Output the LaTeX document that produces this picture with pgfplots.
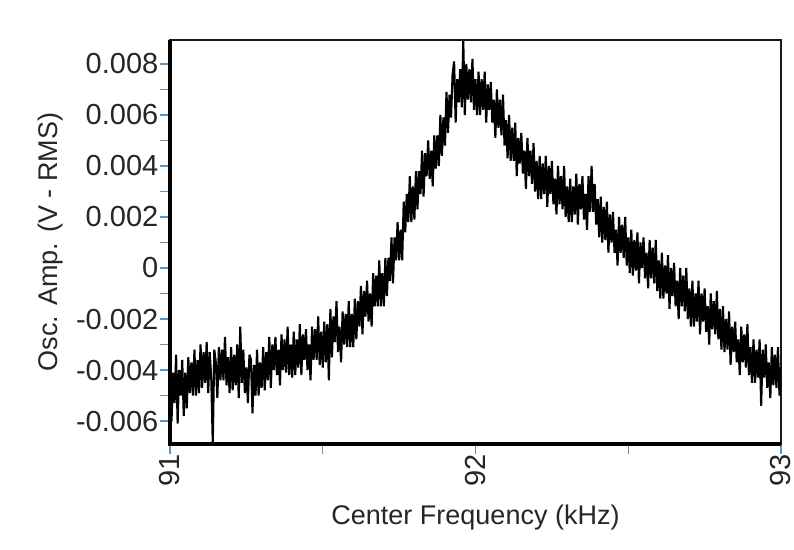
\documentclass[border=0pt]{standalone}
\usepackage{fontspec}
\setmainfont{Liberation Sans}
\usepackage{pgfplots}
\pgfplotsset{compat=1.18}
\definecolor{tickblue}{RGB}{90,150,200}

\begin{document}
\begin{tikzpicture}
\path (0,0) rectangle (794pt,549pt);
\begin{axis}[
  name=ax,
  at={(170pt,105pt)}, anchor=south west,
  scale only axis, width=611pt, height=404pt,
  xmin=91, xmax=93, ymin=-6.9, ymax=8.94,
  xtick={91,92,93}, xticklabels={91,92,93},
  minor xtick={91.5,92.5},
  ytick={-6,-4,-2,0,2,4,6,8},
  yticklabels={-0.006,-0.004,-0.002,0,0.002,0.004,0.006,0.008},
  minor ytick={-5,-3,-1,1,3,5,7},
  tick pos=left, tick align=outside,
  major tick length=10pt, minor tick length=10pt,
  tick style={tickblue, line width=1.3pt},
  axis line style={black!90, line width=2.2pt},
  ticklabel style={font=\fontsize{29}{32}\selectfont, text=black!85},
  yticklabel style={inner sep=1.5pt},
  xticklabel style={rotate=90, anchor=east, inner sep=0.5pt},
  label style={font=\fontsize{27}{30}\selectfont, text=black!85},
  xlabel={Center Frequency (kHz)},
  ylabel={Osc. Amp. (V - RMS)},
  xlabel style={at={(axis description cs:0.5,-0.183)}, anchor=center},
  ylabel style={at={(axis description cs:-0.196,0.5)}, anchor=center},
]
% measured trace, y in mV
\addplot[black, line width=2.1pt, line join=miter, miter limit=2] coordinates {
(91.000,-3.8) (91.005,-6.0) (91.010,-4.1) (91.015,-5.3) (91.020,-3.4)
(91.025,-6.1) (91.030,-4.0) (91.035,-5.0) (91.040,-3.6) (91.045,-5.8)
(91.050,-4.1) (91.055,-5.5) (91.060,-3.5) (91.065,-4.9) (91.070,-3.7)
(91.075,-5.0) (91.080,-3.2) (91.085,-5.0) (91.090,-3.6) (91.095,-4.9)
(91.100,-3.0) (91.105,-4.7) (91.110,-3.3) (91.115,-4.5) (91.120,-2.9)
(91.125,-4.9) (91.130,-3.3) (91.135,-4.3) (91.140,-6.9) (91.145,-3.2)
(91.150,-3.7) (91.155,-5.1) (91.160,-3.1) (91.165,-4.4) (91.170,-3.2)
(91.175,-4.4) (91.180,-2.7) (91.185,-4.6) (91.190,-3.5) (91.195,-4.9)
(91.200,-3.1) (91.205,-4.8) (91.210,-3.4) (91.215,-4.6) (91.220,-3.0)
(91.225,-5.1) (91.230,-2.3) (91.235,-4.5) (91.240,-3.2) (91.245,-4.9)
(91.250,-3.9) (91.255,-5.3) (91.260,-3.4) (91.265,-3.6) (91.270,-5.7)
(91.275,-3.8) (91.280,-5.0) (91.285,-3.2) (91.290,-5.0) (91.295,-3.7)
(91.300,-4.7) (91.305,-3.1) (91.310,-4.8) (91.315,-3.3) (91.320,-4.4)
(91.325,-2.7) (91.330,-4.7) (91.335,-3.0) (91.340,-4.0) (91.345,-2.7)
(91.350,-4.2) (91.355,-3.2) (91.360,-4.6) (91.365,-2.6) (91.370,-4.0)
(91.375,-2.8) (91.380,-4.1) (91.385,-2.3) (91.390,-4.2) (91.395,-3.0)
(91.400,-4.3) (91.405,-2.5) (91.410,-4.2) (91.415,-2.8) (91.420,-3.9)
(91.425,-2.2) (91.430,-4.2) (91.435,-2.6) (91.440,-3.6) (91.445,-2.4)
(91.450,-4.0) (91.455,-3.0) (91.460,-4.4) (91.465,-2.3) (91.470,-3.6)
(91.475,-2.4) (91.480,-3.6) (91.485,-1.9) (91.490,-3.8) (91.495,-2.5)
(91.500,-3.9) (91.505,-2.1) (91.510,-3.7) (91.515,-2.2) (91.520,-4.4)
(91.525,-1.6) (91.530,-3.5) (91.535,-1.9) (91.540,-2.9) (91.545,-1.3)
(91.550,-3.3) (91.555,-2.3) (91.560,-3.7) (91.565,-1.7) (91.570,-3.0)
(91.575,-1.8) (91.580,-3.1) (91.585,-1.3) (91.590,-3.1) (91.595,-1.8)
(91.600,-3.1) (91.605,-1.2) (91.610,-2.8) (91.615,-1.3) (91.620,-2.3)
(91.625,-0.7) (91.630,-2.6) (91.635,-0.9) (91.640,-1.9) (91.645,-0.5)
(91.650,-2.1) (91.655,-1.0) (91.660,-2.3) (91.665,-0.2) (91.670,-1.5)
(91.675,-0.3) (91.680,-1.5) (91.685,0.3) (91.690,-1.5) (91.695,-0.2)
(91.700,-1.5) (91.705,0.4) (91.710,-1.1) (91.715,0.4) (91.720,-0.5)
(91.725,1.2) (91.730,-0.6) (91.735,1.2) (91.740,0.3) (91.745,1.8)
(91.750,0.3) (91.755,1.5) (91.760,0.3) (91.765,2.6) (91.770,1.4)
(91.775,2.9) (91.780,1.8) (91.785,3.6) (91.790,1.8) (91.795,3.2)
(91.800,1.9) (91.805,3.8) (91.810,2.3) (91.815,3.8) (91.820,2.9)
(91.825,4.6) (91.830,2.8) (91.835,4.5) (91.840,3.6) (91.845,5.0)
(91.850,3.5) (91.855,4.6) (91.860,3.2) (91.865,5.2) (91.870,3.9)
(91.875,5.2) (91.880,4.0) (91.885,6.0) (91.890,4.4) (91.895,5.9)
(91.900,4.8) (91.905,6.9) (91.910,5.3) (91.915,6.8) (91.920,5.9)
(91.925,7.6) (91.930,8.1) (91.935,5.7) (91.940,7.4) (91.945,6.5)
(91.950,7.8) (91.955,6.3) (91.960,8.9) (91.965,6.0) (91.970,8.0)
(91.975,6.6) (91.980,7.8) (91.985,6.5) (91.990,8.2) (91.995,6.2)
(92.000,7.4) (92.005,6.0) (92.010,7.7) (92.015,6.0) (92.020,7.4)
(92.025,6.2) (92.030,7.7) (92.035,5.7) (92.040,7.2) (92.045,6.2)
(92.050,7.3) (92.055,5.7) (92.060,6.6) (92.065,5.1) (92.070,7.0)
(92.075,5.5) (92.080,6.6) (92.085,5.2) (92.090,6.8) (92.095,4.8)
(92.100,5.8) (92.105,4.3) (92.110,6.0) (92.115,4.2) (92.120,5.5)
(92.125,4.2) (92.130,5.7) (92.135,3.6) (92.140,5.1) (92.145,4.1)
(92.150,5.3) (92.155,3.7) (92.160,4.6) (92.165,3.1) (92.170,5.1)
(92.175,3.6) (92.180,4.6) (92.185,3.3) (92.190,4.9) (92.195,3.0)
(92.200,4.2) (92.205,2.7) (92.210,4.4) (92.215,2.7) (92.220,4.1)
(92.225,2.9) (92.230,4.4) (92.235,2.4) (92.240,4.0) (92.245,2.9)
(92.250,4.2) (92.255,2.5) (92.260,3.5) (92.265,2.1) (92.270,4.0)
(92.275,2.5) (92.280,3.6) (92.285,2.3) (92.290,4.0) (92.295,2.0)
(92.300,3.2) (92.305,1.8) (92.310,3.5) (92.315,1.8) (92.320,3.2)
(92.325,2.1) (92.330,3.7) (92.335,1.7) (92.340,3.3) (92.345,2.3)
(92.350,3.6) (92.355,1.9) (92.360,2.9) (92.365,1.5) (92.370,3.6)
(92.375,2.2) (92.380,4.0) (92.385,2.2) (92.390,3.3) (92.395,1.7)
(92.400,2.7) (92.405,1.2) (92.410,2.8) (92.415,1.0) (92.420,2.4)
(92.425,1.1) (92.430,2.6) (92.435,0.6) (92.440,2.1) (92.445,1.0)
(92.450,2.2) (92.455,0.6) (92.460,1.5) (92.465,0.1) (92.470,2.0)
(92.475,0.6) (92.480,1.7) (92.485,0.4) (92.490,2.0) (92.495,0.1)
(92.500,1.2) (92.505,-0.2) (92.510,1.5) (92.515,-0.3) (92.520,1.1)
(92.525,-0.1) (92.530,1.4) (92.535,-0.6) (92.540,1.0) (92.545,0.0)
(92.550,1.2) (92.555,-0.4) (92.560,0.6) (92.565,-0.8) (92.570,1.1)
(92.575,-0.4) (92.580,0.8) (92.585,-0.6) (92.590,1.1) (92.595,-0.9)
(92.600,0.3) (92.605,-1.2) (92.610,0.6) (92.615,-1.2) (92.620,0.1)
(92.625,-1.0) (92.630,0.5) (92.635,-1.6) (92.640,0.0) (92.645,-1.1)
(92.650,0.2) (92.655,-1.5) (92.660,-0.5) (92.665,-2.0) (92.670,0.0)
(92.675,-1.5) (92.680,-0.3) (92.685,-1.7) (92.690,0.0) (92.695,-2.0)
(92.700,-0.8) (92.705,-2.3) (92.710,-0.5) (92.715,-2.3) (92.720,-1.0)
(92.725,-2.1) (92.730,-0.5) (92.735,-2.6) (92.740,-1.0) (92.745,-2.1)
(92.750,-0.8) (92.755,-2.5) (92.760,-1.5) (92.765,-3.0) (92.770,-1.0)
(92.775,-2.4) (92.780,-1.3) (92.785,-2.6) (92.790,-0.9) (92.795,-2.8)
(92.800,-1.6) (92.805,-3.2) (92.810,-1.5) (92.815,-3.3) (92.820,-2.0)
(92.825,-3.2) (92.830,-1.7) (92.835,-3.8) (92.840,-2.3) (92.845,-3.3)
(92.850,-2.1) (92.855,-3.7) (92.860,-2.8) (92.865,-4.2) (92.870,-2.3)
(92.875,-3.7) (92.880,-2.6) (92.885,-3.9) (92.890,-2.2) (92.895,-4.2)
(92.900,-3.1) (92.905,-4.5) (92.910,-2.8) (92.915,-4.5) (92.920,-3.2)
(92.925,-4.3) (92.930,-2.8) (92.935,-5.4) (92.940,-3.2) (92.945,-4.3)
(92.950,-3.0) (92.955,-4.7) (92.960,-3.7) (92.965,-5.1) (92.970,-3.1)
(92.975,-4.6) (92.980,-3.4) (92.985,-4.7) (92.990,-3.1) (92.995,-5.0)
(93.000,-3.9)
};
\end{axis}
% heavier left and bottom frame edges
\draw[black, line width=3.6pt] (ax.north west) -- (ax.south west) -- (ax.south east);
\end{tikzpicture}
\end{document}
